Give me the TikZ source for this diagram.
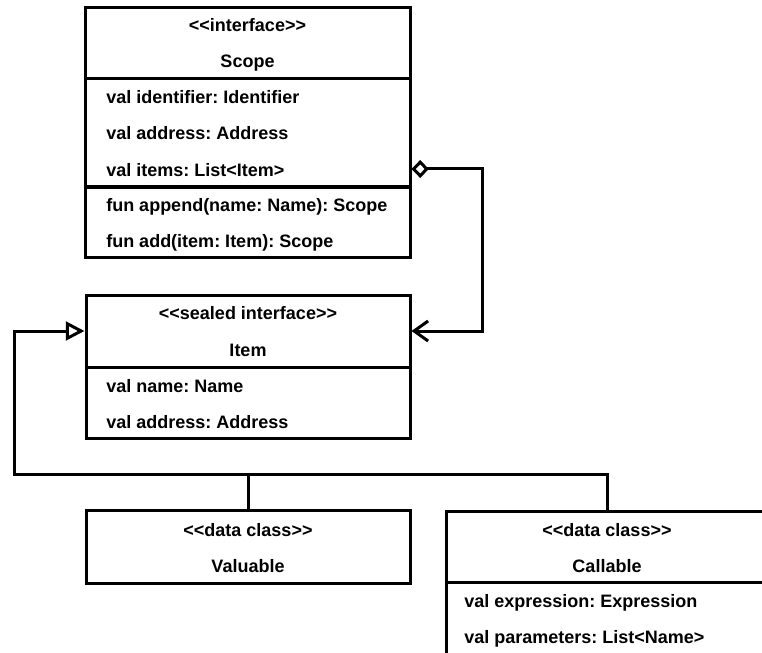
\documentclass[tikz,border=0pt]{standalone}
\usepackage{fontspec}
\setmainfont{Liberation Sans}
\usetikzlibrary{arrows.meta,fit}
\frenchspacing
\begin{document}
\begin{tikzpicture}[x=0.75pt,y=-0.75pt,
  box/.style={draw, rectangle, inner sep=0pt, line width=2.25pt},
  divider/.style={line width=2.25pt},
  txt/.style={font=\fontsize{13.5}{16}\selectfont\bfseries, inner sep=0pt, anchor=base},
  member/.style={txt, anchor=base west},
  link/.style={line width=2.25pt, line join=miter},
  aggregation/.style={link, {Diamond[open,length=13pt,width=13.5pt]}-{Straight Barb[length=10.5pt,width=15pt]}},
  realization/.style={link, -{Triangle[open,length=14pt,width=14pt]}}
]
\useasboundingbox (0,0) rectangle (762,652);
\clip (0,0) rectangle (762,652);

% ---- class boxes ----
\node[box, fit={(85,8) (410,257)}]   (scope)    {};
\node[box, fit={(86,295) (410,438)}] (item)     {};
\node[box, fit={(86,510) (410,583)}] (valuable) {};
\node[box, fit={(446,511) (768,700)}] (callable) {};

% compartment dividers
\draw[divider] (scope.west |- 0,79)  -- (scope.east |- 0,79);
\draw[divider] (scope.west |- 0,187) -- (scope.east |- 0,187);
\draw[divider] (item.west |- 0,367)  -- (item.east |- 0,367);
\draw[divider] (callable.west |- 0,582) -- (callable.east |- 0,582);

% ---- Scope ----
\node[txt] (sstereo) at (247.5,32) {<{}<interface>{}>};
\node[txt] (sname)   at (247.5,68) {Scope};
\node[member] (sid)    at (106,104) {val identifier: Identifier};
\node[member] (saddr)  at (106,140) {val address: Address};
\node[member] (sitems) at (106,176) {val items: List<Item>};
\node[member] (sappend) at (106,211) {fun append(name: Name): Scope};
\node[member] (sadd)    at (106,247) {fun add(item: Item): Scope};

% ---- Item ----
\node[txt] (istereo) at (248,319) {<{}<sealed interface>{}>};
\node[txt] (iname)   at (248,356) {Item};
\node[member] (iname2) at (106,392) {val name: Name};
\node[member] (iaddr)  at (106,428) {val address: Address};

% ---- Valuable ----
\node[txt] (vstereo) at (248,536) {<{}<data class>{}>};
\node[txt] (vname)   at (248,572) {Valuable};

% ---- Callable ----
\node[txt] (cstereo) at (607,536) {<{}<data class>{}>};
\node[txt] (cname)   at (607,572) {Callable};
\node[member] (cexpr)  at (464,607) {val expression: Expression};
\node[member] (cparams) at (464,643) {val parameters: List<Name>};

% ---- connector routing points ----
\coordinate (itemshook) at (248,169);
\coordinate (itemhdr)   at (248,331);
\coordinate (aggx)      at (482,0);
\coordinate (inhx)      at (14,0);
\coordinate (inhy)      at (0,474);

% Scope aggregates Items
\draw[aggregation] (scope.east |- itemshook) -| (aggx |- itemhdr) -- (item.east |- itemhdr);

% Valuable and Callable implement Item
\draw[realization] (valuable.north) |- (inhx |- inhy) |- (item.west |- itemhdr);
\draw[link] (callable.north) |- (valuable.north |- inhy);
\end{tikzpicture}
\end{document}
